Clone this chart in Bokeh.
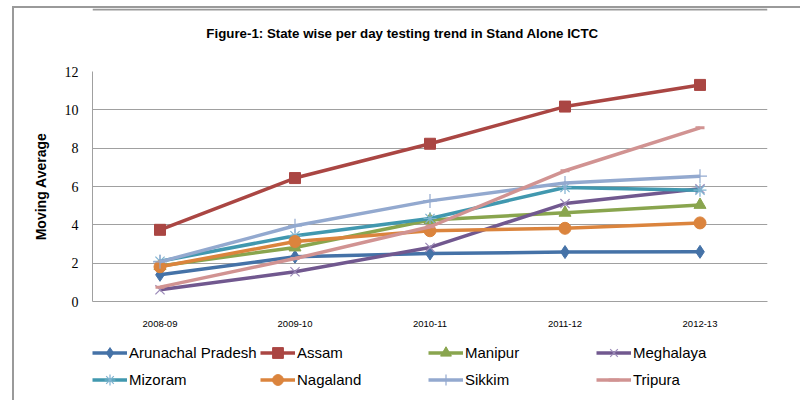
from bokeh.plotting import figure
from bokeh.models import (Legend, LegendItem, FixedTicker, FactorRange, Range1d, Label, Span)
from bokeh.layouts import column
from bokeh.embed import file_html
from bokeh.resources import INLINE

years = ["2008-09", "2009-10", "2010-11", "2011-12", "2012-13"]
arunachal = [1.39, 2.33, 2.50, 2.58, 2.59]
assam = [3.74, 6.44, 8.23, 10.17, 11.30]
manipur = [1.85, 2.82, 4.25, 4.63, 5.04]
meghalaya = [0.61, 1.55, 2.82, 5.11, 5.88]
mizoram = [2.10, 3.43, 4.33, 5.95, 5.81]
nagaland = [1.81, 3.13, 3.69, 3.82, 4.10]
sikkim = [2.07, 3.95, 5.25, 6.18, 6.54]
tripura = [0.75, 2.24, 3.90, 6.82, 9.06]
y_ticks = [0, 2, 4, 6, 8, 10, 12]
title_text = "Figure-1: State wise per day testing trend in Stand Alone ICTC"

series = [
    ("Arunachal Pradesh", arunachal, "#4572A7", "diamond", 13, "#4572A7"),
    ("Assam", assam, "#AA4643", "square", 11, "#AA4643"),
    ("Manipur", manipur, "#89A54E", "triangle", 12, "#89A54E"),
    ("Meghalaya", meghalaya, "#71588F", "x", 13, "#9b8ab8"),
    ("Mizoram", mizoram, "#4198AF", "asterisk", 13, "#7fb3d0"),
    ("Nagaland", nagaland, "#DB843D", "circle", 12, "#DB843D"),
    ("Sikkim", sikkim, "#93A9CF", "cross", 14, "#93A9CF"),
    ("Tripura", tripura, "#D19392", "dash", 9, "#D19392"),
]

W = 786
H0, H1, H2 = 50, 274, 68
BORDER = "#9a9a9a"


def strip_fig(h, xr, yr):
    f = figure(width=W, height=h, output_backend="svg", toolbar_location=None,
               x_range=xr, y_range=yr,
               x_axis_location=None, y_axis_location=None,
               min_border_left=0, min_border_right=0, min_border_top=0,
               min_border_bottom=0)
    f.grid.grid_line_color = None
    f.outline_line_color = None
    f.background_fill_color = "white"
    f.border_fill_color = "white"
    return f


# --- title strip (pixel-like coordinates from the plot-area left, y downward) ---
p0 = strip_fig(H0, Range1d(0, 675), Range1d(H0, 0))
p0.add_layout(Span(location=1, dimension="width", line_color=BORDER, line_width=2))
p0.add_layout(Label(x=310, y=25, text=title_text, text_align="center",
                    text_baseline="middle", text_font="Liberation Sans",
                    text_font_size="13.3px", text_font_style="bold",
                    text_color="#000000"))

# --- main chart ---
p = figure(width=W, height=H1, output_backend="svg", toolbar_location=None,
           x_range=FactorRange(*years), y_range=Range1d(0, 12),
           min_border_left=78, min_border_right=33, min_border_top=13,
           min_border_bottom=31)
p.x_range.range_padding = 0
p.outline_line_color = None
p.background_fill_color = "white"
p.border_fill_color = "white"
p.xgrid.grid_line_color = None
p.ygrid.grid_line_color = "#a0a0a0"
p.ygrid.grid_line_width = 1
p.yaxis.ticker = FixedTicker(ticks=y_ticks)

for ax in (p.xaxis, p.yaxis):
    ax.axis_line_color = "#a0a0a0"
    ax.major_tick_line_color = None
    ax.minor_tick_line_color = None
    ax.major_tick_out = 0
    ax.major_tick_in = 0

p.yaxis.major_label_text_font = "Liberation Serif"
p.yaxis.major_label_text_font_size = "14px"
p.yaxis.major_label_text_color = "#000000"
p.yaxis.major_label_standoff = 14
p.yaxis.axis_label = "Moving Average"
p.yaxis.axis_label_text_font = "Liberation Sans"
p.yaxis.axis_label_text_font_size = "14px"
p.yaxis.axis_label_text_font_style = "bold"
p.yaxis.axis_label_text_color = "#000000"
p.yaxis.axis_label_standoff = 13

p.xaxis.major_label_text_font = "Liberation Sans"
p.xaxis.major_label_text_font_size = "9.5px"
p.xaxis.major_label_text_color = "#000000"
p.xaxis.major_label_standoff = 19

# --- legend strip: same series drawn out of view, only their legend shows ---
p2 = strip_fig(H2, FactorRange(*years), Range1d(100, 100 + H2))

items = []
for name, vals, col, mk, sz, mcol in series:
    p.line(years, vals, line_color=col, line_width=3.5)
    rl = p2.line(years, vals, line_color=col, line_width=3.5)
    if mk in ("x", "asterisk", "cross"):
        kw = dict(marker=mk, line_color=mcol, line_width=1.2, fill_color=None)
    elif mk == "dash":
        kw = dict(marker=mk, line_color=mcol, line_width=3, fill_color=None)
    else:
        kw = dict(marker=mk, line_color=col, fill_color=col)
    p.scatter(years, vals, size=sz, **kw)
    rm = p2.scatter(years, vals, size=sz, **kw)
    items.append(LegendItem(label=name, renderers=[rl, rm]))

for row, ly in enumerate([34.5, 7.5]):
    lg = Legend(items=items[row * 4:(row + 1) * 4], location=(0, ly),
                orientation="horizontal",
                padding=0, margin=0, spacing=0,
                glyph_width=35, glyph_height=27, label_height=27, label_width=131,
                label_standoff=2,
                label_text_font="Liberation Sans", label_text_font_size="15px",
                label_text_color="#000000", background_fill_alpha=0,
                border_line_color=None)
    p2.add_layout(lg, "center")

layout = column(p0, p, p2, spacing=0,
                styles={"margin-left": "12px", "margin-top": "6px",
                        "border-left": "2px solid " + BORDER,
                        "border-top": "2px solid " + BORDER})

open("out.html", "w").write(file_html(layout, INLINE))
